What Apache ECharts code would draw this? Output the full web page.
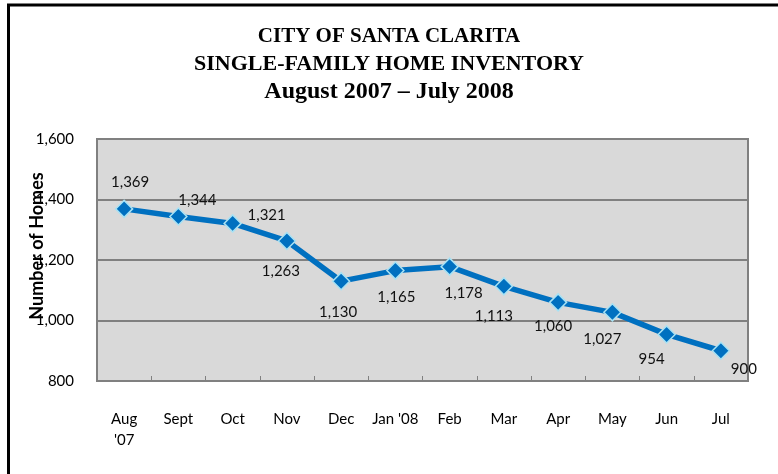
<!DOCTYPE html>
<html>
<head>
<meta charset="utf-8">
<script src="https://cdn.jsdelivr.net/npm/echarts@6/dist/echarts.min.js"></script>
<style>html,body{margin:0;padding:0;background:#fff;}#c{width:778px;height:474px;}</style>
</head>
<body>
<div id="c"></div>
<script>
var categories = ["Aug\n'07", "Sept", "Oct", "Nov", "Dec", "Jan '08", "Feb", "Mar", "Apr", "May", "Jun", "Jul"];
var homes = [1369, 1344, 1321, 1263, 1130, 1165, 1178, 1113, 1060, 1027, 954, 900];
var yTicks = { min: 800, max: 1600, interval: 200 };
var titleLines = ["CITY OF SANTA CLARITA", "SINGLE-FAMILY HOME INVENTORY", "August 2007 \u2013 July 2008"];
var yAxisTitle = "Number of Homes";

// label offsets (styling only)
var labelOffsets = [[6,-27],[19,-16],[34,-8],[-6,30],[-3,31],[1,27],[14,27],[-10,30],[-5,24],[-10,27],[-15,25],[23,18]];
var titleSizes = [21, 22, 24];
var titleTops = [23, 50, 78];

var fmt = function (v) { return String(v).replace(/\B(?=(\d{3})+(?!\d))/g, ','); };

var seriesData = homes.map(function (v, i) {
  return { value: v, label: { offset: labelOffsets[i] } };
});

var titles = titleLines.map(function (t, i) {
  return {
    text: t, left: 'center', top: titleTops[i], padding: 0,
    textStyle: { fontFamily: 'Liberation Serif', fontWeight: 'bold', color: '#000', fontSize: titleSizes[i], lineHeight: 28 }
  };
});

var chart = echarts.init(document.getElementById('c'), null, { renderer: 'canvas' });
chart.setOption({
  backgroundColor: '#ffffff',
  animation: false,
  title: titles,
  grid: {
    left: 97, right: 30, top: 139, bottom: 93,
    show: true, backgroundColor: '#D9D9D9', borderColor: '#808080', borderWidth: 2
  },
  xAxis: {
    type: 'category',
    data: categories,
    boundaryGap: true,
    axisLine: { show: true, lineStyle: { color: '#808080', width: 2 } },
    axisTick: { show: true, inside: true, length: 5, alignWithLabel: false, lineStyle: { color: '#808080', width: 1 } },
    axisLabel: { margin: 28, fontFamily: 'Lato', fontSize: 15, color: '#000', lineHeight: 21, interval: 0, verticalAlign: 'top' },
    splitLine: { show: false }
  },
  yAxis: {
    type: 'value',
    min: yTicks.min, max: yTicks.max, interval: yTicks.interval,
    axisLine: { show: false },
    axisTick: { show: false },
    axisLabel: { margin: 23, fontFamily: 'Lato', fontSize: 15, color: '#000', formatter: fmt },
    splitLine: { show: true, lineStyle: { color: '#808080', width: 2 } }
  },
  graphic: [
    { type: 'line', shape: { x1: 8.5, y1: 4, x2: 8.5, y2: 474 }, style: { stroke: '#000', lineWidth: 3 }, z: 10 },
    { type: 'line', shape: { x1: 7, y1: 5, x2: 778, y2: 5 }, style: { stroke: '#000', lineWidth: 3 }, z: 10 },
    { type: 'text', x: 37, y: 246, rotation: Math.PI / 2,
      style: { text: yAxisTitle, fontFamily: 'Lato', fontWeight: 'bold', fontSize: 18, fill: '#000', textAlign: 'center', textVerticalAlign: 'middle' }, z: 10 }
  ],
  series: [{
    type: 'line',
    data: seriesData,
    symbol: 'diamond',
    symbolSize: 17,
    lineStyle: { color: '#0070C0', width: 5.5 },
    itemStyle: { color: '#0070C0', borderColor: '#A8E2F4', borderWidth: 1.5 },
    label: {
      show: true, position: 'inside', formatter: function (p) { return fmt(p.value); },
      fontFamily: 'Lato', fontSize: 15, color: '#111', align: 'center', verticalAlign: 'middle'
    }
  }]
});
</script>
</body>
</html>
